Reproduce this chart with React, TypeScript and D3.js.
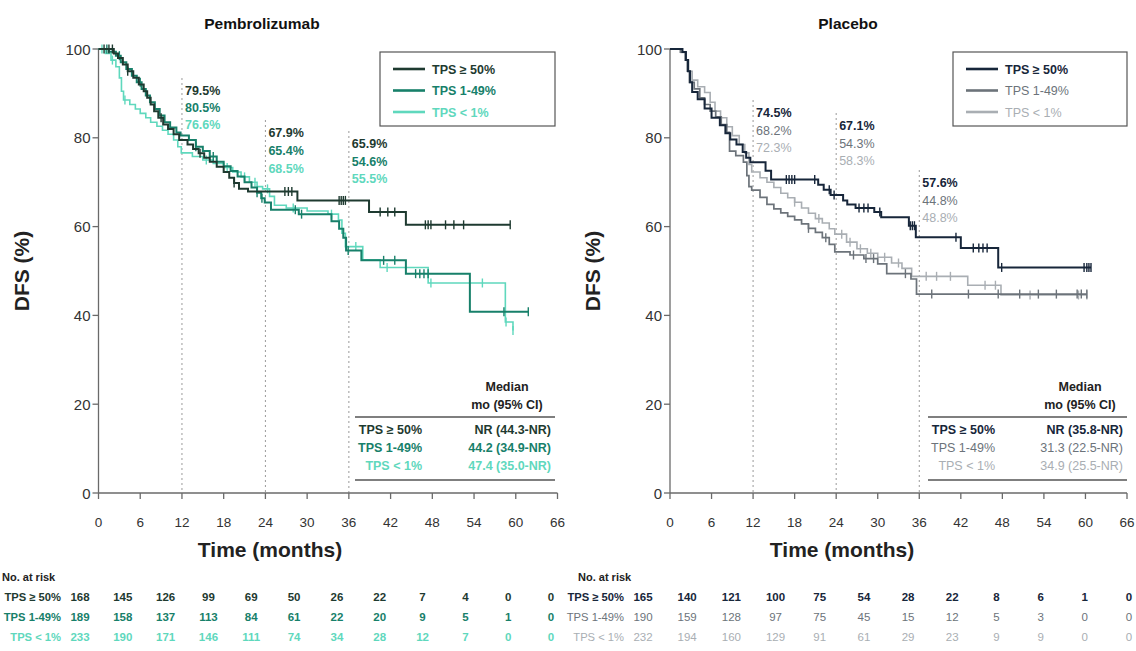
import React from "react";
import * as d3 from "d3";

// ---------- data ----------
const groups = ["TPS ≥ 50%", "TPS 1-49%", "TPS < 1%"];
const xTicks = d3.range(0, 67, 6);
const yTicks = [0, 20, 40, 60, 80, 100];
const landmarkMonths = [12, 24, 36];

// Kaplan-Meier steps [month, DFS %] — pembrolizumab arm
const pembroHigh: [number, number][] = [
  [0, 100], [2.2, 99], [2.8, 98], [3.5, 96.5], [4.2, 95], [5.0, 93.5], [5.8, 92], [6.5, 90.5],
  [7.0, 89], [7.5, 87.5], [8.0, 86], [8.6, 84.5], [9.3, 83], [10.0, 82], [10.8, 80.8], [11.6, 79.5],
  [12.8, 78.5], [13.6, 77.5], [14.4, 76.5], [15.2, 75.5], [16.0, 74.6], [17.0, 73.5], [18.0, 72.3],
  [18.8, 71], [19.5, 69.8], [20.2, 68.5], [21.5, 67.9], [28.6, 65.9], [38.9, 63.3], [44.2, 60.4], [59.2, 60.4],
];
const pembroMid: [number, number][] = [
  [0, 100], [1.5, 99.4], [2.5, 98.5], [3.2, 97], [4.0, 95.5], [4.8, 94], [5.5, 92.5], [6.2, 91],
  [6.8, 89.5], [7.4, 88], [8.1, 86.5], [8.8, 85], [9.5, 83.5], [10.3, 82.3], [11.2, 81.2], [11.8, 80.5],
  [13.0, 79.5], [14.0, 78], [15.0, 77], [16.0, 75.8], [17.0, 74.6], [18.0, 73.6], [19.0, 72.5],
  [20.0, 71.3], [21.0, 70], [22.0, 68.8], [22.8, 67.6], [23.4, 66.4], [23.9, 65.4], [24.8, 63.8],
  [28.8, 62.8], [33.5, 61.2], [34.6, 59.5], [35.2, 57.5], [35.6, 54.6], [37.8, 52.4], [44.2, 49.4],
  [53.4, 40.8], [61.8, 40.8],
];
const pembroLow: [number, number][] = [
  [0, 100], [1.0, 99], [1.8, 97.5], [2.5, 96], [3.0, 93.5], [3.3, 90.5], [3.6, 88.5], [4.5, 87.5],
  [5.3, 86.5], [6.0, 85.5], [6.8, 84.5], [7.5, 83.5], [8.4, 82.6], [9.2, 81.7], [10.0, 80.8],
  [10.8, 79.5], [11.4, 78], [11.9, 76.6], [13.5, 75.8], [15.0, 75], [16.5, 74.2], [18.0, 73.3],
  [19.3, 72.3], [20.5, 71.2], [21.7, 70], [22.8, 69], [23.6, 68.5], [24.6, 66.8], [25.3, 64.8],
  [27.0, 64.2], [30.0, 63.5], [33.0, 62.8], [34.5, 61.5], [35.0, 58.5], [35.5, 55.5], [38.0, 52.5],
  [40.5, 50.8], [47.4, 47.3], [58.5, 38.5], [59.6, 36.6],
];
const pembroHighCensor = [0.8, 1.5, 2.0, 4.2, 9.0, 14.6, 19.5, 26.8, 27.3, 27.8, 34.6, 34.9, 35.2, 35.5, 40.5, 41.6, 42.6, 47.0, 47.4, 47.8, 49.9, 51.1, 52.5, 59.2];
const pembroMidCensor = [1.2, 3.0, 6.0, 14.0, 16.5, 22.8, 23.5, 28.3, 29.2, 35.9, 41.0, 42.6, 45.6, 46.2, 46.8, 47.4, 58.3, 61.8];
const pembroLowCensor = [0.5, 2.0, 3.8, 15.5, 18.5, 21.0, 22.5, 24.3, 28.0, 33.5, 37.0, 41.5, 47.8, 55.2, 58.6, 59.6];

// Kaplan-Meier steps [month, DFS %] — placebo arm
const placeboHigh: [number, number][] = [
  [0, 100], [1.8, 99.3], [2.3, 97.5], [2.6, 95], [2.9, 92.5], [3.2, 90.3], [4.0, 88.7], [5.0, 86.6],
  [6.0, 84.5], [7.2, 82.8], [8.0, 81], [8.7, 79.6], [9.6, 78.5], [10.5, 76.8], [11.0, 75.5],
  [11.6, 74.5], [13.8, 72.6], [14.6, 70.6], [21.4, 69.4], [22.2, 68.3], [23.2, 67.1], [25.0, 65.9],
  [25.6, 65], [26.8, 64.2], [29.5, 63.3], [30.5, 62.1], [34.5, 60.2], [35.5, 57.6], [42.0, 55.2],
  [47.4, 50.8], [60.8, 50.8],
];
const placeboMid: [number, number][] = [
  [0, 100], [1.5, 99.3], [2.2, 97.5], [2.5, 95], [2.8, 92.5], [3.5, 91], [4.3, 89], [5.0, 87.5],
  [5.8, 86], [6.6, 84.7], [7.4, 83], [8.2, 81.2], [8.6, 77], [9.5, 76], [10.6, 74.5], [11.1, 71.5],
  [11.4, 69], [11.8, 68.2], [13.0, 66.6], [14.0, 65], [15.0, 64], [16.0, 63.1], [17.0, 62.3],
  [18.0, 61.5], [19.0, 60.6], [20.0, 59.6], [21.0, 58.7], [22.0, 57.5], [23.0, 56], [23.8, 54.3],
  [26.0, 53.6], [28.0, 52.8], [30.0, 51.6], [31.3, 49.4], [34.8, 48.2], [35.6, 44.8], [60.2, 44.8],
];
const placeboLow: [number, number][] = [
  [0, 100], [1.6, 99.2], [2.3, 97.5], [2.7, 95], [3.2, 93], [4.0, 91.5], [5.0, 90.2], [5.8, 88],
  [6.5, 86], [7.3, 84.5], [8.2, 82.5], [9.0, 80.5], [10.0, 78.5], [10.8, 76.6], [11.4, 74],
  [11.8, 72.3], [13.0, 71], [14.0, 70], [15.0, 68.8], [16.0, 67.5], [17.0, 66.5], [18.0, 65.5],
  [19.0, 64.2], [20.0, 63], [21.0, 61.8], [22.0, 60.8], [23.0, 59.5], [23.8, 58.3], [25.5, 56.5],
  [27.0, 55], [28.5, 54], [30.0, 53.1], [32.0, 51.8], [33.5, 50.6], [34.9, 48.8], [43.0, 46.8],
  [47.8, 44.6], [60.2, 44.6],
];
const placeboHighCensor = [16.8, 17.2, 17.6, 18.0, 20.9, 23.0, 23.7, 27.3, 28.0, 28.6, 30.3, 34.7, 35.0, 35.3, 41.3, 43.8, 44.6, 45.2, 45.8, 47.9, 59.8, 60.2, 60.5, 60.8];
const placeboMidCensor = [20.0, 22.5, 26.5, 28.3, 29.4, 34.0, 37.8, 43.1, 47.4, 50.5, 53.2, 55.8, 58.8, 59.4, 60.2];
const placeboLowCensor = [18.0, 21.5, 24.8, 26.0, 27.5, 29.0, 31.0, 33.0, 37.0, 38.5, 40.5, 45.5, 47.0, 52.0, 59.0, 60.2];

// Landmark DFS rates at 12, 24, 36 months (rows: groups)
const pembroLandmarks = [
  [79.5, 67.9, 65.9],
  [80.5, 65.4, 54.6],
  [76.6, 68.5, 55.5],
];
const placeboLandmarks = [
  [74.5, 67.1, 57.6],
  [68.2, 54.3, 44.8],
  [72.3, 58.3, 48.8],
];

const pembroMedians = ["NR (44.3-NR)", "44.2 (34.9-NR)", "47.4 (35.0-NR)"];
const placeboMedians = ["NR (35.8-NR)", "31.3 (22.5-NR)", "34.9 (25.5-NR)"];

const pembroAtRisk = [
  [168, 145, 126, 99, 69, 50, 26, 22, 7, 4, 0, 0],
  [189, 158, 137, 113, 84, 61, 22, 20, 9, 5, 1, 0],
  [233, 190, 171, 146, 111, 74, 34, 28, 12, 7, 0, 0],
];
const placeboAtRisk = [
  [165, 140, 121, 100, 75, 54, 28, 22, 8, 6, 1, 0],
  [190, 159, 128, 97, 75, 45, 15, 12, 5, 3, 0, 0],
  [232, 194, 160, 129, 91, 61, 29, 23, 9, 9, 0, 0],
];

// ---------- styling / layout ----------
const FONT = "'Liberation Sans', Arial, Helvetica, sans-serif";
const AXIS = "#6a6a6a";

const pembroColors = ["#1e3a30", "#17806a", "#5fd8bd"];
const placeboColors = ["#17263a", "#6c737a", "#a9aeb3"];

type Panel = {
  title: string;
  titleX: number;
  x0: number;
  x1: number;
  series: [number, number][][];
  censors: number[][];
  colors: string[];
  bold: boolean[];
  widths: number[];
  landmarks: number[][];
  annY: number[][];
  medians: string[];
  atRisk: number[][];
  legend: { x: number; y: number; w: number; h: number };
  table: { x1: number; x2: number; labelRight: number; valueRight: number; headerX: number };
  risk: { titleX: number; labelRight: number; first: number; last: number };
  xTitleX: number;
};

const panels: Panel[] = [
  {
    title: "Pembrolizumab",
    titleX: 262,
    x0: 98.5,
    x1: 557.5,
    series: [pembroHigh, pembroMid, pembroLow],
    censors: [pembroHighCensor, pembroMidCensor, pembroLowCensor],
    colors: pembroColors,
    bold: [true, true, true],
    widths: [2, 2, 1.6],
    landmarks: pembroLandmarks,
    annY: [[90, 107, 124], [132, 150, 168], [143, 161, 178]],
    medians: pembroMedians,
    atRisk: pembroAtRisk,
    legend: { x: 380, y: 52, w: 175, h: 74 },
    table: { x1: 355, x2: 555, labelRight: 422, valueRight: 551, headerX: 507 },
    risk: { titleX: 2, labelRight: 61, first: 80, last: 551 },
    xTitleX: 270,
  },
  {
    title: "Placebo",
    titleX: 848,
    x0: 670,
    x1: 1127,
    series: [placeboHigh, placeboMid, placeboLow],
    censors: [placeboHighCensor, placeboMidCensor, placeboLowCensor],
    colors: placeboColors,
    bold: [true, false, false],
    widths: [2, 1.7, 1.6],
    landmarks: placeboLandmarks,
    annY: [[112, 130, 147], [125, 143, 160], [182, 200, 217]],
    medians: placeboMedians,
    atRisk: placeboAtRisk,
    legend: { x: 953, y: 52, w: 174, h: 74 },
    table: { x1: 928, x2: 1127, labelRight: 995, valueRight: 1123, headerX: 1080 },
    risk: { titleX: 578, labelRight: 624, first: 643, last: 1129 },
    xTitleX: 842,
  },
];

const Y_TOP = 49;
const Y_BOTTOM = 493;

function stepValue(steps: [number, number][], t: number): number {
  let v = steps[0][1];
  for (const [m, s] of steps) {
    if (m <= t) v = s;
    else break;
  }
  return v;
}

function KMPanel({ p }: { p: Panel }) {
  const x = d3.scaleLinear().domain([0, 66]).range([p.x0, p.x1]);
  const y = d3.scaleLinear().domain([0, 100]).range([Y_BOTTOM, Y_TOP]);
  const line = d3
    .line<[number, number]>()
    .x((d) => x(d[0]))
    .y((d) => y(d[1]))
    .curve(d3.curveStepAfter);
  const riskX = d3.scaleLinear().domain([0, 11]).range([p.risk.first, p.risk.last]);
  const riskY = [601, 621, 641];

  return (
    <g fontFamily={FONT}>
      <text x={p.titleX} y={29} textAnchor="middle" fontSize={15.5} fontWeight="bold" fill="#111">
        {p.title}
      </text>

      {/* landmark guides */}
      {landmarkMonths.map((m, i) => (
        <line
          key={"g" + m}
          x1={x(m)}
          x2={x(m)}
          y1={p.annY[i][0] - 12}
          y2={Y_BOTTOM}
          stroke="#9a9a9a"
          strokeWidth={1}
          strokeDasharray="2,3"
        />
      ))}

      {/* axes */}
      <line x1={x(0)} x2={x(0)} y1={y(100)} y2={y(0)} stroke={AXIS} strokeWidth={1.3} />
      <line x1={x(0)} x2={x(66)} y1={y(0)} y2={y(0)} stroke={AXIS} strokeWidth={1.3} />
      {yTicks.map((v) => (
        <g key={"y" + v}>
          <line x1={x(0) - 6} x2={x(0)} y1={y(v)} y2={y(v)} stroke={AXIS} strokeWidth={1.3} />
          <text x={x(0) - 8} y={y(v) + 5.5} textAnchor="end" fontSize={15} fill="#333">
            {v}
          </text>
        </g>
      ))}
      {xTicks.map((v) => (
        <g key={"x" + v}>
          <line x1={x(v)} x2={x(v)} y1={y(0)} y2={y(0) + 6} stroke={AXIS} strokeWidth={1.3} />
          <text x={x(v)} y={527} textAnchor="middle" fontSize={13.5} fill="#333">
            {v}
          </text>
        </g>
      ))}
      <text
        transform={`translate(${p.x0 - 70},${271}) rotate(-90)`}
        textAnchor="middle"
        fontSize={21}
        fontWeight="bold"
        fill="#222"
      >
        DFS (%)
      </text>
      <text x={p.xTitleX} y={557} textAnchor="middle" fontSize={21} fontWeight="bold" fill="#222">
        Time (months)
      </text>

      {/* curves, lightest drawn first */}
      {[2, 1, 0].map((i) => (
        <g key={"s" + i}>
          <path d={line(p.series[i]) || ""} fill="none" stroke={p.colors[i]} strokeWidth={p.widths[i]} />
          {p.censors[i].map((c, k) => {
            const cy = y(stepValue(p.series[i], c));
            return (
              <line
                key={k}
                x1={x(c)}
                x2={x(c)}
                y1={cy - 4.5}
                y2={cy + 4.5}
                stroke={p.colors[i]}
                strokeWidth={1.4}
              />
            );
          })}
        </g>
      ))}

      {/* landmark rates */}
      {landmarkMonths.map((m, j) =>
        groups.map((_, i) => (
          <text
            key={"a" + m + i}
            x={x(m) + 3}
            y={p.annY[j][i] + 4.5}
            fontSize={12.5}
            fontWeight={p.bold[i] ? "bold" : "normal"}
            fill={p.colors[i]}
          >
            {p.landmarks[i][j].toFixed(1) + "%"}
          </text>
        ))
      )}

      {/* legend */}
      <rect
        x={p.legend.x}
        y={p.legend.y}
        width={p.legend.w}
        height={p.legend.h}
        fill="white"
        stroke="#555"
        strokeWidth={1.2}
      />
      {groups.map((g, i) => {
        const ly = p.legend.y + 17 + i * 21.5;
        return (
          <g key={"l" + i}>
            <line
              x1={p.legend.x + 13}
              x2={p.legend.x + 45}
              y1={ly}
              y2={ly}
              stroke={p.colors[i]}
              strokeWidth={2.6}
            />
            <text
              x={p.legend.x + 52}
              y={ly + 4.5}
              fontSize={12.5}
              fontWeight={p.bold[i] ? "bold" : "normal"}
              fill={p.colors[i]}
            >
              {g}
            </text>
          </g>
        );
      })}

      {/* median table */}
      <text x={p.table.headerX} y={391} textAnchor="middle" fontSize={12.5} fontWeight="bold" fill="#222">
        Median
      </text>
      <text x={p.table.headerX} y={409} textAnchor="middle" fontSize={12.5} fontWeight="bold" fill="#222">
        mo (95% CI)
      </text>
      <line x1={p.table.x1} x2={p.table.x2} y1={417} y2={417} stroke="#555" strokeWidth={1.4} />
      {groups.map((g, i) => (
        <g key={"m" + i}>
          <text
            x={p.table.labelRight}
            y={434 + i * 18}
            textAnchor="end"
            fontSize={12.5}
            fontWeight={p.bold[i] ? "bold" : "normal"}
            fill={p.colors[i]}
          >
            {g}
          </text>
          <text
            x={p.table.valueRight}
            y={434 + i * 18}
            textAnchor="end"
            fontSize={12.5}
            fontWeight={p.bold[i] ? "bold" : "normal"}
            fill={p.colors[i]}
          >
            {p.medians[i]}
          </text>
        </g>
      ))}
      <line x1={p.table.x1} x2={p.table.x2} y1={480} y2={480} stroke="#555" strokeWidth={1.4} />

      {/* number at risk */}
      <text x={p.risk.titleX} y={581} fontSize={11} fontWeight="bold" fill="#222">
        No. at risk
      </text>
      {groups.map((g, i) => (
        <g key={"r" + i}>
          <text
            x={p.risk.labelRight}
            y={riskY[i]}
            textAnchor="end"
            fontSize={11.2}
            fontWeight={p.bold[i] ? "bold" : "normal"}
            fill={p.colors[i]}
          >
            {g}
          </text>
          {p.atRisk[i].map((n, k) => (
            <text
              key={k}
              x={riskX(k)}
              y={riskY[i]}
              textAnchor="middle"
              fontSize={11.5}
              fontWeight={p.bold[i] ? "bold" : "normal"}
              fill={p.colors[i]}
            >
              {n}
            </text>
          ))}
        </g>
      ))}
    </g>
  );
}

export default function App() {
  return (
    <div style={{ position: "absolute", left: 0, top: 0 }}>
      <svg width={1136} height={651} viewBox="0 0 1136 651" style={{ display: "block", background: "white" }}>
        <rect width={1136} height={651} fill="white" />
        {panels.map((p) => (
          <KMPanel key={p.title} p={p} />
        ))}
      </svg>
    </div>
  );
}
